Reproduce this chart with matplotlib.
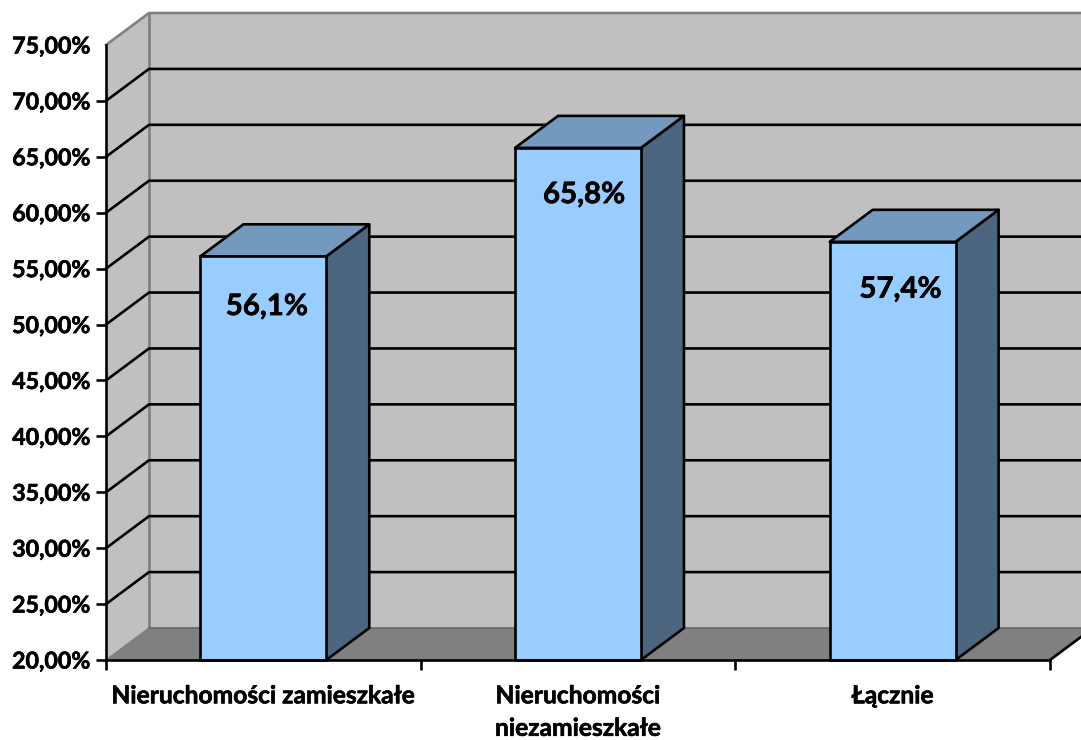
import matplotlib
matplotlib.use("Agg")
import matplotlib.pyplot as plt
import matplotlib.patheffects as pe
from matplotlib.patches import Polygon

# ── Dane ──────────────────────────────────────────────────────────────────────
CATEGORIES = ["Nieruchomości zamieszkałe", "Nieruchomości\nniezamieszkałe", "Łącznie"]
VALUES     = [56.1, 65.8, 57.4]
LABELS     = ["56,1%", "65,8%", "57,4%"]
Y_TICKS    = [20, 25, 30, 35, 40, 45, 50, 55, 60, 65, 70, 75]

# ── Styl ──────────────────────────────────────────────────────────────────────
W, H = 1081, 740
Y_MIN, Y_MAX = 20, 75
BAR_WIDTH = 0.4
# głębokość "3D" w jednostkach danych (43 px, 32 px)
DX = 43 / 944 * 3
DY = 32 / 615 * 55
LW = 1.9
LABEL_OFFSETS = [(2.5, -36.5), (4.3, -34), (5.5, -34.5)]
# Lato Bold jest cieńszy niż oryginalna czcionka, więc lekko pogrubiamy
HEAVY = [pe.withStroke(linewidth=0.45, foreground="black")]

WALL  = "#C0C0C0"
FLOOR = "#808080"
FRONT = "#99CCFF"
TOP   = "#7399BF"
SIDE  = "#4D6680"

plt.rcParams["font.family"] = ["Lato", "DejaVu Sans"]
plt.rcParams["font.weight"] = "bold"

fig = plt.figure(figsize=(W / 100, H / 100), dpi=100)
ax = fig.add_axes([106 / W, (H - 660) / H, 944 / W, 615 / H])
ax.set_xlim(0, 3)
ax.set_ylim(Y_MIN, Y_MAX)
ax.patch.set_visible(False)


def poly(points, color, z, edge="none", lw=0):
    ax.add_patch(Polygon(points, closed=True, facecolor=color, edgecolor=edge,
                         linewidth=lw, zorder=z, clip_on=False, joinstyle="round"))


# ściany i podłoga
x_far = 3 + DX
poly([(0, Y_MIN), (DX, Y_MIN + DY), (DX, Y_MAX + DY), (0, Y_MAX)], WALL, 1)
poly([(DX, Y_MIN + DY), (x_far, Y_MIN + DY), (x_far, Y_MAX + DY), (DX, Y_MAX + DY)], WALL, 1)
poly([(0, Y_MIN), (DX, Y_MIN + DY), (x_far, Y_MIN + DY), (3, Y_MIN)], FLOOR, 2)

# krawędzie ścian
ax.plot([0, DX, x_far], [Y_MAX, Y_MAX + DY, Y_MAX + DY], color=FLOOR, lw=LW, zorder=3, clip_on=False)
ax.plot([DX, DX], [Y_MIN + DY, Y_MAX + DY], color=FLOOR, lw=LW, zorder=3, clip_on=False)
ax.plot([0, DX], [Y_MIN, Y_MIN + DY], color=FLOOR, lw=1.0, zorder=3, clip_on=False)
ax.plot([DX, x_far], [Y_MIN + DY, Y_MIN + DY], color="#666666", lw=1.2, zorder=3, clip_on=False)
ax.plot([3, x_far], [Y_MIN, Y_MIN + DY], color="black", lw=LW, zorder=3, clip_on=False)

# linie siatki
for t in Y_TICKS[1:-1]:
    ax.plot([0, DX, x_far], [t, t + DY, t + DY], color="black", lw=LW, zorder=3, clip_on=False)

# słupki
for i, (val, lab) in enumerate(zip(VALUES, LABELS)):
    left = i + 0.5 - BAR_WIDTH / 2
    right = i + 0.5 + BAR_WIDTH / 2
    poly([(right, Y_MIN), (right + DX, Y_MIN + DY), (right + DX, val + DY), (right, val)],
         SIDE, 4, "black", LW)
    poly([(left, val), (left + DX, val + DY), (right + DX, val + DY), (right, val)],
         TOP, 4, "black", LW)
    ax.bar(i + 0.5, val - Y_MIN, bottom=Y_MIN, width=BAR_WIDTH, color=FRONT,
           edgecolor="black", linewidth=LW, zorder=5, clip_on=False)
    ax.annotate(lab, (i + 0.5, val), xytext=LABEL_OFFSETS[i], textcoords="offset points",
                ha="center", va="center", fontsize=21.2, fontweight="bold", zorder=6,
                path_effects=HEAVY)

# osie
for side in ["top", "right"]:
    ax.spines[side].set_visible(False)
for side in ["left", "bottom"]:
    ax.spines[side].set_linewidth(LW)
    ax.spines[side].set_zorder(7)

ax.set_yticks(Y_TICKS)
ax.set_yticklabels([f"{t},00%" for t in Y_TICKS], fontsize=16.7, fontweight="bold",
                   path_effects=HEAVY)
ax.tick_params(axis="y", length=7.2, width=LW, pad=4)
ax.yaxis.get_major_ticks()[-1].tick1line.set_visible(False)

ax.set_xticks([0, 1, 2, 3])
ax.set_xticklabels([])
ax.tick_params(axis="x", which="major", length=7.2, width=LW)
ax.set_xticks([0.5, 1.5, 2.5], minor=True)
ax.set_xticklabels(CATEGORIES, minor=True, fontsize=17.7, fontweight="bold", linespacing=1.5,
                   path_effects=HEAVY)
ax.tick_params(axis="x", which="minor", length=0, pad=17.5)

fig.savefig("out.png", dpi=100)
